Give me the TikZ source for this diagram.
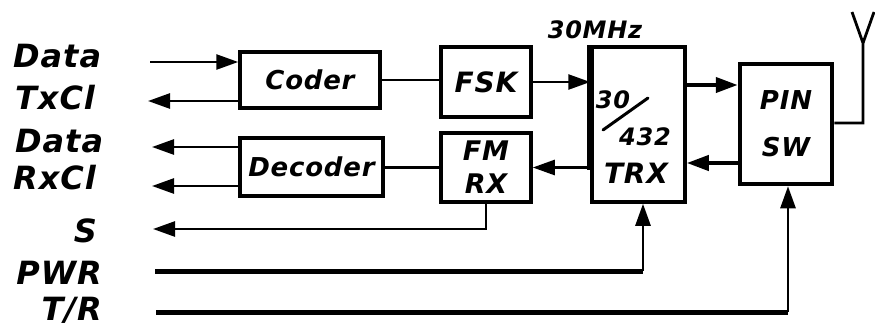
\documentclass[tikz,border=0pt]{standalone}
\usepackage{fontspec}
\setmainfont{DejaVu Sans}
\newfontfamily\hand[LetterSpace=3]{DejaVu Sans}
\usetikzlibrary{arrows.meta}
\begin{document}
\begin{tikzpicture}[x=1pt,y=-1pt,
  box/.style={draw, line width=3.5pt, inner sep=0pt, align=center},
  sig/.style={line width=2.6pt},
  thk/.style={line width=4pt},
  heavy/.style={line width=5pt},
  arr/.style={-{Triangle[length=22pt,width=15pt]}},
  lbl/.style={inner sep=0pt, font=\hand\bfseries\itshape\fontsize{32}{36}\selectfont},
  txt/.style={font=\hand\bfseries\itshape\fontsize{#1}{#1}\selectfont},
  txt/.default=26
]
\useasboundingbox (0,0) rectangle (875,327);

% boxes
\node[box, minimum width=140pt, minimum height=56pt, txt=26] (coder) at (310,80) {Coder};
\node[box, minimum width=143pt, minimum height=58pt, txt=26] (dec) at (311.5,167) {Decoder};
\node[box, minimum width=90pt, minimum height=70pt, txt=28] (fsk) at (486,82) {FSK};
\node[box, minimum width=90pt, minimum height=69pt, font=\hand\bfseries\itshape\fontsize{27}{33}\selectfont] (fmrx) at (486,167.5) {FM\\RX};
\node[box, minimum width=93pt, minimum height=155pt] (trx) at (638.5,124.5) {};
\node[box, line width=4.5pt, minimum width=92pt, minimum height=120pt, font=\hand\bfseries\itshape\fontsize{26}{47}\selectfont] (pin) at (786,124) {PIN\\SW};

% thick left edge of TRX
\coordinate (trxthick) at (592,170);
\draw[line width=6pt] (trx.north west) -- (trx.north west |- trxthick);

% TRX inscription
\node[txt=24, inner sep=0pt, anchor=base] (t30) at (613,108) {30};
\node[txt=24, inner sep=0pt, anchor=base] (t432) at (645,145) {432};
\node[txt=28, inner sep=0pt, anchor=base] (ttrx) at (636,183) {TRX};
\coordinate (sl1) at (603,130);
\coordinate (sl2) at (648,98);
\draw[line width=3pt, line cap=round] (sl1) -- (sl2);

% frequency label
\node[txt=24, inner sep=0pt, anchor=base] (mhz) at (595,38) {30MHz};

% left labels
\node[lbl, anchor=base west] (ldata1) at (13,67) {Data};
\node[lbl, anchor=base west] (ltx) at (15,109) {TxCl};
\node[lbl, anchor=base west] (ldata2) at (15,152) {Data};
\node[lbl, anchor=base west] (lrx) at (13,189) {RxCl};
\node[lbl, anchor=base east] (ls) at (97,242) {S};
\node[lbl, anchor=base east] (lpwr) at (102,284) {PWR};
\node[lbl, anchor=base east] (ltr) at (102,320) {T/R};

% transmit path
\coordinate (dinL) at (150,62);
\draw[sig,arr] (dinL) -- (dinL -| coder.west);
\coordinate (txL) at (148,101);
\draw[sig,arr] (txL -| coder.west) -- (txL);
\draw[sig] (coder.east) -- (coder.east -| fsk.west);
\draw[sig,arr] (fsk.east) -- (fsk.east -| trx.west);
\coordinate (tp) at (700,85);
\draw[thk,arr] (tp -| trx.east) -- (tp -| pin.west);

% receive path
\coordinate (pt) at (700,163);
\draw[thk,arr] (pt -| pin.west) -- (pt -| trx.east);
\draw[sig,arr] (fmrx.east -| trx.west) -- (fmrx.east);
\draw[sig] (fmrx.west) -- (fmrx.west -| dec.east);
\coordinate (d2L) at (152,147);
\draw[sig,arr] (d2L -| dec.west) -- (d2L);
\coordinate (rxL) at (152,186);
\draw[sig,arr] (rxL -| dec.west) -- (rxL);
\coordinate (sL) at (153,229);
\draw[sig,arr] (fmrx.south) |- (sL);

% power and T/R
\coordinate (pwrL) at (155,271);
\coordinate (pwrC) at (643,271);
\draw[heavy] (pwrL) -- (pwrC);
\draw[sig,arr] (pwrC) -- (pwrC |- trx.south);
\coordinate (trL) at (156,312);
\coordinate (trC) at (788,312);
\draw[heavy] (trL) -- (trC);
\draw[sig,arr] (trC) -- (trC |- pin.south);

% antenna
\coordinate (a0) at (863,123);
\coordinate (a1) at (863,43);
\coordinate (a2) at (852,12);
\coordinate (a3) at (874,12);
\draw[line width=2.8pt] (pin.east |- a0) -- (a0) -- (a1) -- (a2);
\draw[line width=2.8pt] (a1) -- (a3);
\end{tikzpicture}
\end{document}
